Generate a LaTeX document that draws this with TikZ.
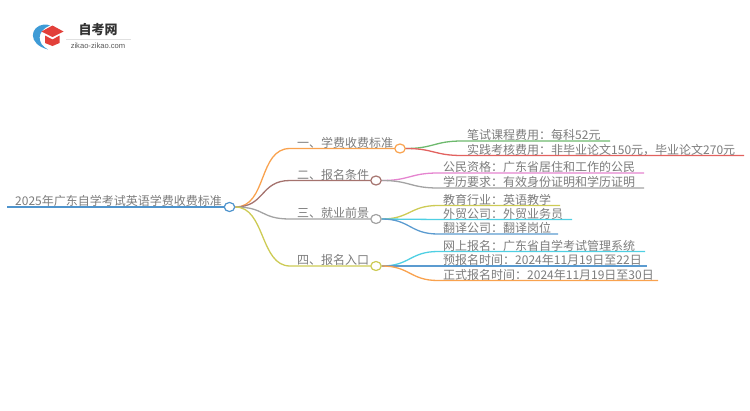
\documentclass[tikz,border=0pt]{standalone}
\usepackage{fontspec}
\setmainfont{Noto Sans CJK SC}
\newfontfamily\latinf{Liberation Sans}
\definecolor{cRoot}{HTML}{4F94CD}
\definecolor{cOrange}{HTML}{F9A24E}
\definecolor{cBrown}{HTML}{A5736E}
\definecolor{cGray}{HTML}{A3A3A3}
\definecolor{cOlive}{HTML}{CDCB55}
\definecolor{cGreen}{HTML}{6DB96D}
\definecolor{cRed}{HTML}{E2625F}
\definecolor{cPink}{HTML}{E584CF}
\definecolor{cCyan}{HTML}{4FCFE3}
\definecolor{cBlue}{HTML}{5B9BD0}
\definecolor{cText}{HTML}{7C7C7C}
\definecolor{cHat}{HTML}{E2403A}
\definecolor{cRing}{HTML}{3E9BD6}
\tikzset{
  hub/.style={ellipse,draw=#1,fill=white,line width=1.2pt,minimum width=10.5pt,minimum height=9pt,inner sep=0pt},
  lbl/.style={anchor=base west,inner sep=0pt,text=cText,font=\fontsize{12}{12}\selectfont},
  conn/.style={draw=#1,line width=1.3pt},
}
\usetikzlibrary{shapes.geometric}
\begin{document}
\begin{tikzpicture}[x=1pt,y=-1pt]
\useasboundingbox (0,0) rectangle (750,410);
% logo
\fill[cRing] (44,24.5) .. controls (30,26) and (27,44) .. (48,49.5) .. controls (37,44) and (36,31) .. (50,25.5) .. controls (48,24.5) and (46,24.2) .. (44,24.5) -- cycle;
\fill[cHat] (52.5,25.5) -- (63.5,31.5) -- (52.5,37) -- (41.5,31.5) -- cycle;
\fill[cHat] (45,35.5) -- (52.5,39.5) -- (59.5,35.5) -- (59.5,43) -- (52.5,46) -- (45,43) -- cycle;
\node[anchor=center,inner sep=0pt,text=black!80,font=\fontsize{13}{13}\selectfont\bfseries] (logot) at (98,29.5) {自考网};
\node[anchor=center,inner sep=0pt,text=black!65,font=\latinf\fontsize{7.6}{8}\selectfont] (logos) at (98,45.5) {zikao-zikao.com};
\draw[black!12,line width=.6pt] (66,39) -- (131,39);

% coordinates
\coordinate (rs) at (7,207);
\node[hub=cRoot] (root) at (229.5,207) {};
\foreach \n/\x/\y in {b1a/290/148.5, b2a/290/180.5, b3a/290/219, b4a/290/266,
  l1a/462/141, l1b/610/141, l2a/462/155.5, l2b/744/155.5,
  l3a/438/173, l3b/644/173, l4a/438/188, l4b/644/188,
  l5a/438/205.5, l5b/560/205.5, l6a/438/219.5, l6b/572/219.5, l7a/438/234, l7b/558/234,
  l8a/438/251.5, l8b/645/251.5, l9a/438/266, l9b/647/266, l10a/438/280.5, l10b/658/280.5}
  {\coordinate (\n) at (\x,\y);}
\node[hub=cOrange] (b1) at (400,148.5) {};
\node[hub=cBrown] (b2) at (376,180.5) {};
\node[hub=cGray] (b3) at (376,219) {};
\node[hub=cOlive] (b4) at (376,266) {};

% connectors
\draw[conn=cRoot] (rs) -- (root.west);
\draw[conn=cOrange] (root.east) .. controls +(32,0) and +(-32,0) .. (b1a) -- (b1.west);
\draw[conn=cBrown] (root.east) .. controls +(30,0) and +(-30,0) .. (b2a) -- (b2.west);
\draw[conn=cGray] (root.east) .. controls +(30,0) and +(-30,0) .. (b3a) -- (b3.west);
\draw[conn=cOlive] (root.east) .. controls +(30,0) and +(-30,0) .. (b4a) -- (b4.west);
\draw[conn=cGreen] (b1.east) .. controls +(28,0) and +(-28,0) .. (l1a) -- (l1b);
\draw[conn=cRed] (b1.east) .. controls +(28,0) and +(-28,0) .. (l2a) -- (l2b);
\draw[conn=cPink] (b2.east) .. controls +(28,0) and +(-28,0) .. (l3a) -- (l3b);
\draw[conn=cGray] (b2.east) .. controls +(28,0) and +(-28,0) .. (l4a) -- (l4b);
\draw[conn=cOlive] (b3.east) .. controls +(28,0) and +(-28,0) .. (l5a) -- (l5b);
\draw[conn=cCyan] (b3.east) .. controls +(28,0) and +(-28,0) .. (l6a) -- (l6b);
\draw[conn=cBlue] (b3.east) .. controls +(28,0) and +(-28,0) .. (l7a) -- (l7b);
\draw[conn=cCyan] (b4.east) .. controls +(28,0) and +(-28,0) .. (l8a) -- (l8b);
\draw[conn=cBlue] (b4.east) .. controls +(28,0) and +(-28,0) .. (l9a) -- (l9b);
\draw[conn=cOrange] (b4.east) .. controls +(28,0) and +(-28,0) .. (l10a) -- (l10b);

% labels
\node[lbl] (t0) at (15,205) {2025年广东自学考试英语学费收费标准};
\node[lbl] (t1) at (297,147) {一、学费收费标准};
\node[lbl] (t2) at (297,179) {二、报名条件};
\node[lbl] (t3) at (297,217.5) {三、就业前景};
\node[lbl] (t4) at (297,264.5) {四、报名入口};
\node[lbl] (t5) at (467,139.5) {笔试课程费用：每科52元};
\node[lbl] (t6) at (467,154) {实践考核费用：非毕业论文150元，毕业论文270元};
\node[lbl] (t7) at (443,171.5) {公民资格：广东省居住和工作的公民};
\node[lbl] (t8) at (443,186.5) {学历要求：有效身份证明和学历证明};
\node[lbl] (t9) at (443,204) {教育行业：英语教学};
\node[lbl] (t10) at (443,218) {外贸公司：外贸业务员};
\node[lbl] (t11) at (443,232.5) {翻译公司：翻译岗位};
\node[lbl] (t12) at (443,250) {网上报名：广东省自学考试管理系统};
\node[lbl] (t13) at (443,264.5) {预报名时间：2024年11月19日至22日};
\node[lbl] (t14) at (443,279) {正式报名时间：2024年11月19日至30日};
\end{tikzpicture}
\end{document}
